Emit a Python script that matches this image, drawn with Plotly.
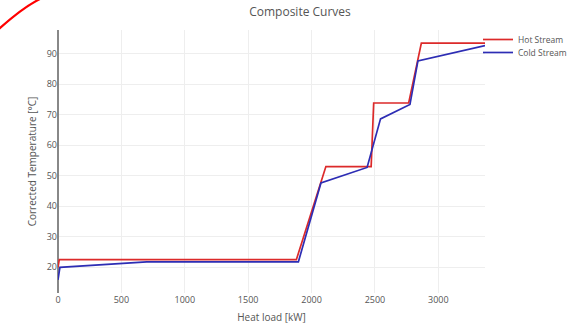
import plotly.graph_objects as go

# Hot composite curve: heat load [kW] vs corrected temperature [°C]
hot_load = [0, 10, 1880, 2113, 2470, 2490, 2766, 2866, 3368]
hot_temp = [20.0, 22.5, 22.5, 53.0, 53.0, 73.8, 73.8, 93.4, 93.4]

# Cold composite curve
cold_load = [0, 15, 700, 1896, 2074, 2438, 2544, 2776, 2839, 3368]
cold_temp = [15.9, 20.0, 21.8, 21.8, 47.6, 52.7, 68.6, 73.3, 87.6, 92.6]

W, H = 567, 325
ML, MR, MT, MB = 58, 82, 30, 32
PW, PH = W - ML - MR, H - MT - MB

fig = go.Figure()
fig.add_trace(go.Scatter(x=hot_load, y=hot_temp, mode="lines", name="Hot Stream",
                         line=dict(color="#dc2a2a", width=1.7), legend="legend",
                         showlegend=True))
fig.add_trace(go.Scatter(x=cold_load, y=cold_temp, mode="lines", name="Cold Stream",
                         line=dict(color="#2d2db4", width=1.7), legend="legend2",
                         showlegend=True))

# red hand-drawn marker stroke in the upper-left corner (pixel coords from plot top-left)
def px(x, y):
    return x - ML, MT - y

p0, c1, p1 = px(-6, 33.5), px(22.7, 6.9), px(42, -2)
fig.add_shape(type="path", xref="paper", yref="paper", xsizemode="pixel", ysizemode="pixel",
              xanchor=0, yanchor=1,
              path=f"M{p0[0]},{p0[1]} Q{c1[0]},{c1[1]} {p1[0]},{p1[1]}",
              line=dict(color="#ff0000", width=2.2))


def legend_at(top_px):
    return dict(x=(478 - ML) / PW, xanchor="left", y=1 - (top_px - MT) / PH,
                yanchor="top", font=dict(size=8.5), bgcolor="rgba(0,0,0,0)")


fig.update_layout(
    template="none",
    width=W, height=H,
    showlegend=True,
    margin=dict(l=ML, r=MR, t=MT, b=MB, pad=0, autoexpand=False),
    font=dict(family="Open Sans, Arial, sans-serif", size=9, color="#555"),
    title=dict(text="Composite Curves", x=300 / W, xref="container", xanchor="center",
               y=1 - 12 / H, yref="container", yanchor="middle",
               font=dict(size=12, color="#555")),
    xaxis=dict(title=dict(text="Heat load [kW]", font=dict(size=10), standoff=8),
               showgrid=True, gridcolor="#eeeeee", zeroline=True, zerolinecolor="#888",
               zerolinewidth=1.5, tickfont=dict(size=9), ticks="", dtick=500),
    yaxis=dict(title=dict(text="Corrected Temperature [°C]", font=dict(size=10), standoff=8),
               showgrid=True, gridcolor="#eeeeee", zeroline=False,
               tickfont=dict(size=9), ticks="", dtick=10),
    legend=legend_at(25),
    legend2=legend_at(38),
    plot_bgcolor="white", paper_bgcolor="white",
)

fig.write_html("out.html")
